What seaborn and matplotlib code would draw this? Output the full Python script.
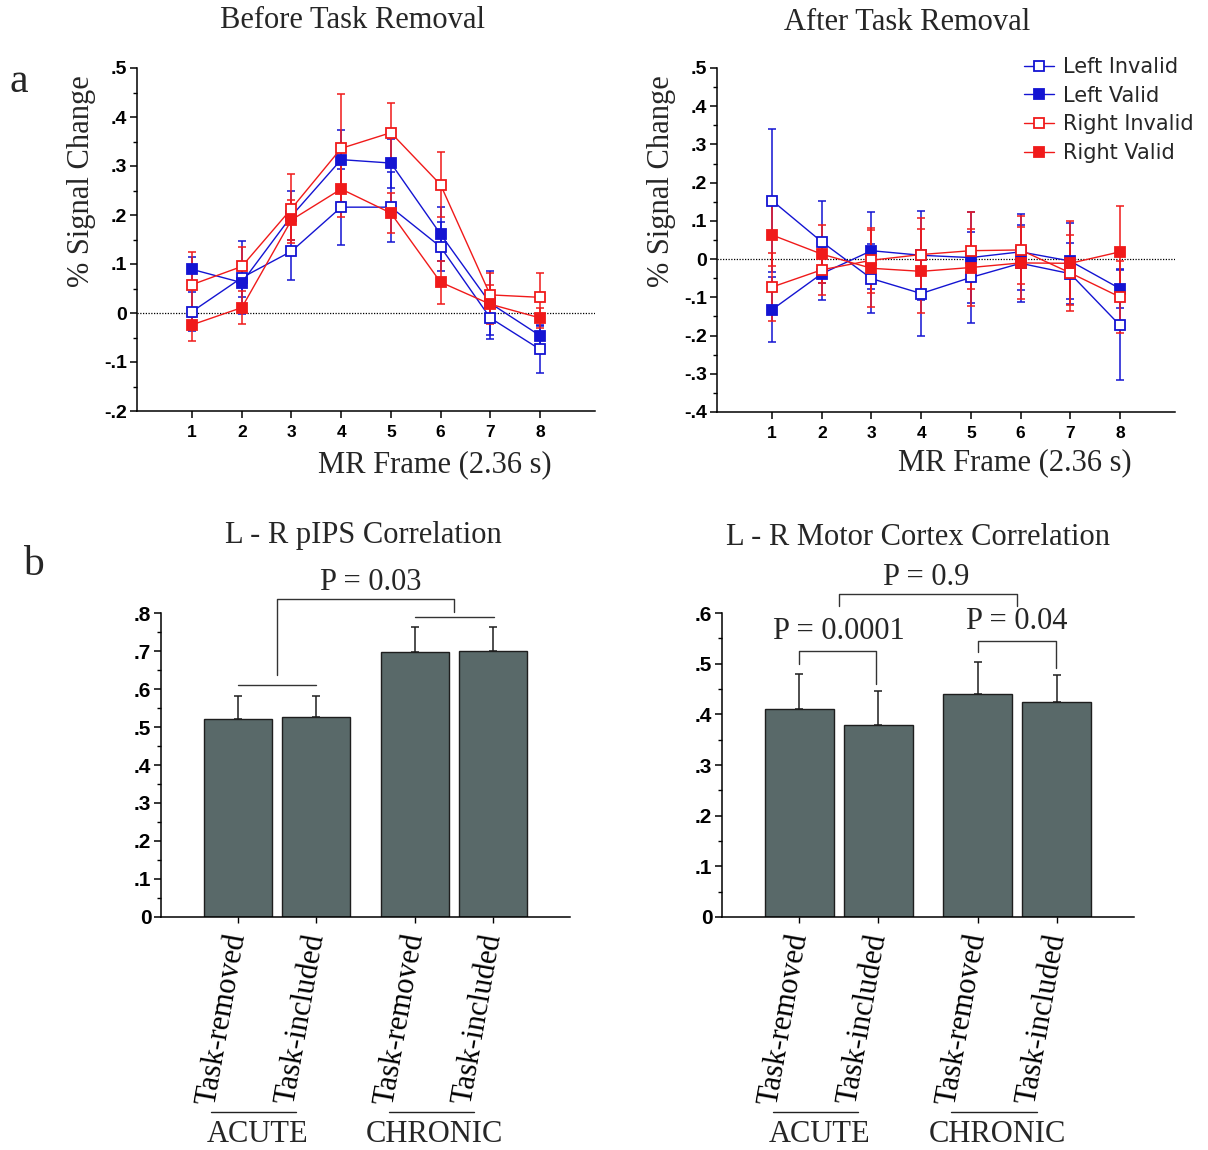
import numpy as np
import pandas as pd
import matplotlib
matplotlib.use("Agg")
import matplotlib.pyplot as plt
import seaborn as sns

# ---------------- data ----------------
frames = [1, 2, 3, 4, 5, 6, 7, 8]
series_names = ["Left Invalid", "Left Valid", "Right Invalid", "Right Valid"]

# Before task removal
li_before = [0.003, 0.072, 0.126, 0.216, 0.216, 0.135, -0.010, -0.074]
li_before_err = [0.040, 0.075, 0.059, 0.077, 0.072, 0.050, 0.044, 0.049]
lv_before = [0.089, 0.062, 0.198, 0.313, 0.306, 0.161, 0.020, -0.046]
lv_before_err = [0.025, 0.030, 0.050, 0.060, 0.050, 0.055, 0.065, 0.020]
ri_before = [0.058, 0.095, 0.213, 0.336, 0.368, 0.262, 0.037, 0.032]
ri_before_err = [0.066, 0.040, 0.070, 0.110, 0.061, 0.067, 0.045, 0.050]
rv_before = [-0.024, 0.011, 0.190, 0.253, 0.204, 0.063, 0.018, -0.010]
rv_before_err = [0.033, 0.034, 0.040, 0.058, 0.040, 0.044, 0.040, 0.020]

# After task removal
li_after = [0.153, 0.045, -0.051, -0.090, -0.048, -0.011, -0.038, -0.173]
li_after_err = [0.188, 0.107, 0.090, 0.110, 0.118, 0.100, 0.080, 0.144]
lv_after = [-0.132, -0.038, 0.022, 0.010, 0.004, 0.019, -0.005, -0.077]
lv_after_err = [0.085, 0.070, 0.100, 0.117, 0.120, 0.100, 0.100, 0.050]
ri_after = [-0.073, -0.028, -0.003, 0.012, 0.022, 0.024, -0.036, -0.099]
ri_after_err = [0.090, 0.065, 0.085, 0.095, 0.100, 0.090, 0.100, 0.095]
rv_after = [0.063, 0.013, -0.024, -0.032, -0.022, -0.010, -0.011, 0.019]
rv_after_err = [0.080, 0.075, 0.100, 0.110, 0.100, 0.095, 0.110, 0.120]

# Bar panels
groups = ["ACUTE", "CHRONIC"]
conditions = ["Task-removed", "Task-included"]
pips_mean = [0.521, 0.526, 0.697, 0.700]
pips_err = [0.060, 0.055, 0.066, 0.062]
motor_mean = [0.410, 0.378, 0.441, 0.424]
motor_err = [0.070, 0.069, 0.062, 0.054]

# ---------------- style ----------------
sns.set_theme(style="ticks")
plt.rcParams["font.family"] = ["Liberation Sans", "DejaVu Sans"]
SERIF = ["Liberation Serif", "DejaVu Serif"]
BLUE = "#1414d2"
RED = "#f01a1a"
BAR = "#566b6c"
plt.rcParams["axes.linewidth"] = 1.1
plt.rcParams["axes.edgecolor"] = "black"
plt.rcParams["xtick.color"] = "black"
plt.rcParams["ytick.color"] = "black"

W, H = 1208, 1150
fig = plt.figure(figsize=(W / 100, H / 100), dpi=100)
fig.patch.set_facecolor("white")


def ax_at(l, t, r, b):
    return fig.add_axes([l / W, 1 - b / H, (r - l) / W, (b - t) / H])


def fx(x):
    return x / W


def fy(y):
    return 1 - y / H


def fmt_tick(v):
    if abs(v) < 1e-9:
        return "0"
    s = "%.1f" % v
    return s.replace("0.", ".")


def line_panel(ax, data, ylim):
    colors = [BLUE, BLUE, RED, RED]
    filled = [False, True, False, True]
    for name, (vals, errs), col, fl in zip(series_names, data, colors, filled):
        df = pd.DataFrame({"frame": frames, "val": vals})
        ax.errorbar(frames, vals, yerr=errs, fmt="none", ecolor=col,
                    elinewidth=1.1, capsize=3, capthick=1.1, zorder=2,
                    label="_nolegend_")
        sns.lineplot(data=df, x="frame", y="val", ax=ax, color=col,
                     marker="s", markersize=7.5,
                     markerfacecolor=col if fl else "white",
                     markeredgecolor=col, markeredgewidth=1.3,
                     linewidth=1.0, label=name, zorder=3)
    if ax.get_legend() is not None:
        ax.get_legend().remove()
    ax.axhline(0, color="black", lw=0.9, ls=(0, (1, 1.2)), zorder=1)
    ax.set_xlim(-0.11, 9.11)
    ax.set_ylim(*ylim)
    major = np.round(np.arange(ylim[0], ylim[1] + 1e-9, 0.1), 2)
    minor = np.round(np.arange(ylim[0], ylim[1] + 1e-9, 0.05), 3)
    ax.set_yticks(major, labels=[fmt_tick(v) for v in major],
                  fontweight="bold", fontsize=14)
    ax.set_yticks(minor, minor=True)
    ax.set_xticks(frames, labels=[str(f) for f in frames],
                  fontweight="bold", fontsize=12.5)
    ax.tick_params(axis="y", which="major", length=5, width=1.1, pad=2)
    ax.tick_params(axis="y", which="minor", length=3, width=1.0)
    ax.tick_params(axis="x", which="major", length=5, width=1.1, pad=5)
    ax.set_xlabel("")
    ax.set_ylabel("% Signal Change", family=SERIF, fontsize=22)
    ax.yaxis.set_label_coords(-0.122, 0.67)
    ax.yaxis.label.set_verticalalignment("center")
    sns.despine(ax=ax)


def bar_panel(ax, means, errs, ylim):
    df = pd.DataFrame({"group": np.repeat(groups, 2),
                       "cond": conditions * 2,
                       "val": means})
    sns.barplot(data=df, x="group", y="val", hue="cond", order=groups,
                hue_order=conditions,
                palette={c: BAR for c in conditions}, width=0.886, gap=0.13,
                edgecolor="#1e1e1e", linewidth=1.0, errorbar=None,
                legend=False, ax=ax, zorder=2)
    patches = sorted(ax.patches, key=lambda p: p.get_x())
    xs = [p.get_x() + p.get_width() / 2 for p in patches]
    hs = [p.get_height() for p in patches]
    ax.errorbar(xs, hs, yerr=[np.zeros(len(errs)), errs], fmt="none",
                ecolor="#1e1e1e", elinewidth=1.1, capsize=2.6, capthick=1.1,
                zorder=1)
    ax.set_xlim(-0.655, 1.655)
    ax.set_ylim(*ylim)
    major = np.round(np.arange(0, ylim[1] + 1e-9, 0.1), 2)
    minor = np.round(np.arange(0, ylim[1] + 1e-9, 0.05), 3)
    ax.set_yticks(major, labels=[fmt_tick(v) for v in major],
                  fontweight="bold", fontsize=15)
    ax.set_yticks(minor, minor=True)
    ax.set_xticks(xs, labels=conditions * 2)
    for lbl in ax.get_xticklabels():
        lbl.set_rotation(80)
        lbl.set_rotation_mode("anchor")
        lbl.set_horizontalalignment("right")
        lbl.set_verticalalignment("center")
        lbl.set_fontfamily(SERIF)
        lbl.set_fontsize(22)
    ax.tick_params(axis="y", which="major", length=5, width=1.1, pad=2)
    ax.tick_params(axis="y", which="minor", length=3, width=1.0)
    ax.tick_params(axis="x", which="major", length=4, width=1.0, pad=8)
    ax.set_xlabel("")
    ax.set_ylabel("")
    sns.despine(ax=ax)
    # group labels under the rotated tick labels
    tr = ax.get_xaxis_transform()
    for g, name in enumerate(groups):
        ax.plot([g - 0.37, g + 0.11], [-0.64, -0.64], transform=tr,
                color="#222222", lw=1.0, clip_on=False)
        ax.text(g - 0.11, -0.715, name, transform=tr, ha="center",
                va="center", family=SERIF, fontsize=22)
    return xs


def bracket(ax, x0, x1, y, y0, y1, color="#333333"):
    ax.plot([x0, x0, x1, x1], [y0, y, y, y1], color=color, lw=1.0,
            clip_on=False, zorder=4)


# ---------------- panel a ----------------
ax1 = ax_at(137, 68, 595, 411)
line_panel(ax1, [(li_before, li_before_err), (lv_before, lv_before_err),
                 (ri_before, ri_before_err), (rv_before, rv_before_err)],
           (-0.2, 0.5))
ax2 = ax_at(717, 68, 1175, 412)
line_panel(ax2, [(li_after, li_after_err), (lv_after, lv_after_err),
                 (ri_after, ri_after_err), (rv_after, rv_after_err)],
           (-0.4, 0.5))

handles, labels = ax2.get_legend_handles_labels()
ax2.legend(handles, labels, loc="upper left",
           bbox_to_anchor=(fx(1024), fy(57)), bbox_transform=fig.transFigure,
           frameon=False, prop={"family": "DejaVu Sans", "size": 15},
           handlelength=1.45, handletextpad=0.4, labelspacing=0.42,
           borderpad=0, borderaxespad=0)

fig.text(fx(352), fy(21), "Before Task Removal", ha="center", va="center",
         family=SERIF, fontsize=22)
fig.text(fx(907), fy(23), "After Task Removal", ha="center", va="center",
         family=SERIF, fontsize=22)
fig.text(fx(435), fy(465), "MR Frame (2.36 s)", ha="center", va="center",
         family=SERIF, fontsize=22)
fig.text(fx(1015), fy(463), "MR Frame (2.36 s)", ha="center", va="center",
         family=SERIF, fontsize=22)
fig.text(fx(19), fy(82), "a", ha="center", va="center", family=SERIF,
         fontsize=30)
fig.text(fx(33), fy(565), "b", ha="center", va="center", family=SERIF,
         fontsize=30)

# ---------------- panel b ----------------
ax3 = ax_at(161, 613, 570, 917)
bar_panel(ax3, pips_mean, pips_err, (0, 0.8))
ax4 = ax_at(722, 613, 1134, 917)
bar_panel(ax4, motor_mean, motor_err, (0, 0.6))

fig.text(fx(363), fy(535), "L - R pIPS Correlation", ha="center",
         va="center", family=SERIF, fontsize=22)
fig.text(fx(918), fy(537), "L - R Motor Cortex Correlation", ha="center",
         va="center", family=SERIF, fontsize=22)

# pIPS brackets
bracket(ax3, 0.0, 1.0, 0.837, 0.636, 0.803)
ax3.plot([-0.22, 0.22], [0.611, 0.611], color="#333333", lw=1.0, zorder=4)
ax3.plot([0.78, 1.225], [0.789, 0.789], color="#333333", lw=1.0, zorder=4,
         clip_on=False)
ax3.text(0.53, 0.88, "P = 0.03", ha="center", va="center", family=SERIF,
         fontsize=22)

# Motor brackets
bracket(ax4, 0.0, 1.0, 0.638, 0.613, 0.613)
ax4.text(0.49, 0.670, "P = 0.9", ha="center", va="center", family=SERIF,
         fontsize=22)
bracket(ax4, -0.225, 0.21, 0.525, 0.50, 0.46)
ax4.text(0.0, 0.563, "P = 0.0001", ha="center", va="center", family=SERIF,
         fontsize=22)
bracket(ax4, 0.78, 1.22, 0.545, 0.523, 0.492)
ax4.text(1.0, 0.583, "P = 0.04", ha="center", va="center", family=SERIF,
         fontsize=22)

fig.savefig("out.png", dpi=100, facecolor="white")
